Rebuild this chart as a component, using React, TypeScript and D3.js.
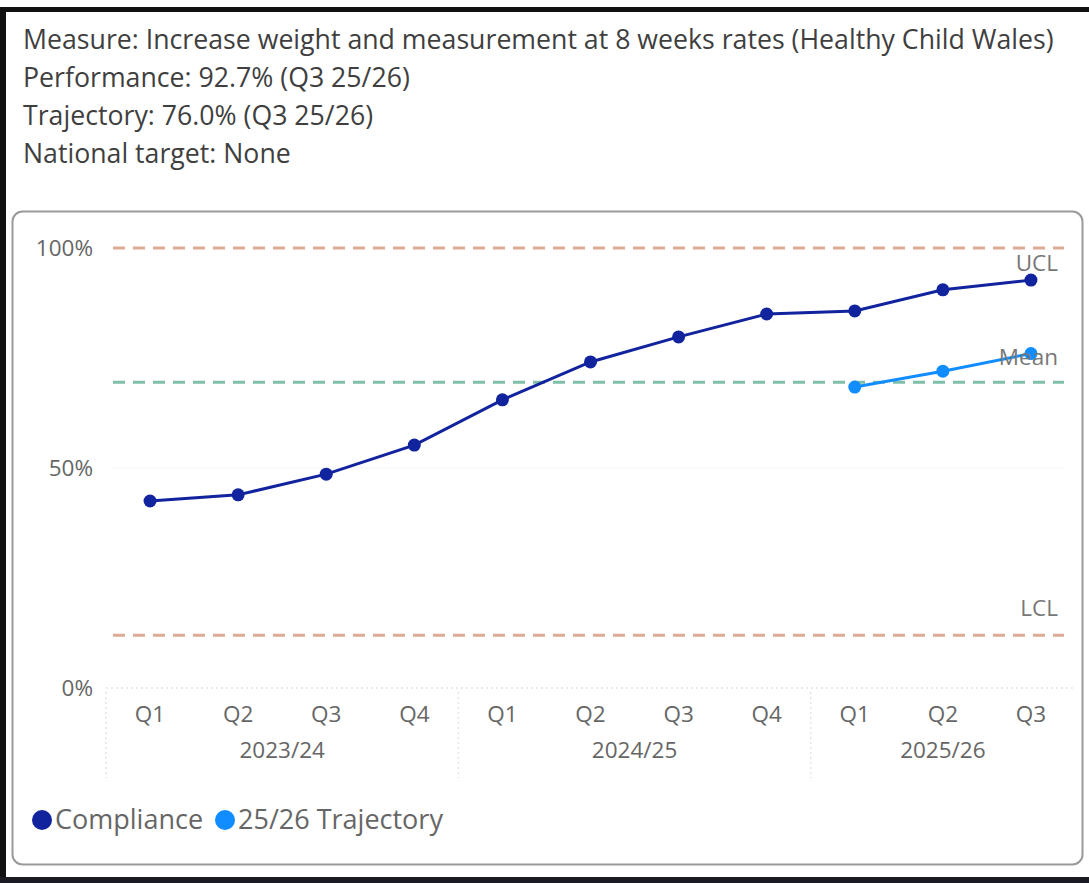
import React from "react";
import * as d3 from "d3";

// Quarter categories, grouped by financial year
const quarters = ["Q1", "Q2", "Q3", "Q4", "Q1", "Q2", "Q3", "Q4", "Q1", "Q2", "Q3"];
const years = ["2023/24", "2024/25", "2025/26"];
const yearOfQuarter = [0, 0, 0, 0, 1, 1, 1, 1, 2, 2, 2];

// Compliance rate (%) per quarter
const compliance = [42.5, 43.9, 48.6, 55.2, 65.5, 74.1, 79.8, 85.0, 85.7, 90.5, 92.7];
// 25/26 trajectory (%) for the last three quarters
const trajectoryIndex = [8, 9, 10];
const trajectory = [68.4, 72.0, 76.0];

// Control limits (%)
const ucl = 100;
const mean = 69.5;
const lcl = 12.0;

const yTicks = [0, 50, 100];
const headerLines = [
  "Measure: Increase weight and measurement at 8 weeks rates (Healthy Child Wales)",
  "Performance: 92.7% (Q3 25/26)",
  "Trajectory: 76.0% (Q3 25/26)",
  "National target: None",
];

const FONT = "'Open Sans', 'Noto Sans', sans-serif";
const COMPLIANCE_COLOR = "#12239E";
const TRAJECTORY_COLOR = "#118DFF";
const AXIS_FONT = 22.5;

export default function App() {
  const W = 1089;
  const H = 883;

  const x = d3
    .scaleBand<number>()
    .domain(d3.range(quarters.length))
    .range([106, 1075])
    .paddingInner(0)
    .paddingOuter(0);
  const cx = (i: number) => (x(i) as number) + x.bandwidth() / 2;
  const y = d3.scaleLinear().domain([0, 100]).range([688, 248]);

  const line = d3
    .line<[number, number]>()
    .x((d) => d[0])
    .y((d) => d[1]);

  const compPts: [number, number][] = compliance.map((v, i) => [cx(i), y(v)]);
  const trajPts: [number, number][] = trajectory.map((v, k) => [cx(trajectoryIndex[k]), y(v)]);

  const lineX0 = 113;
  const lineX1 = 1064;

  // year group boundaries (index of first quarter in each year)
  const yearStarts = years.map((_, yi) => yearOfQuarter.indexOf(yi));
  const yearEnds = years.map((_, yi) => yearOfQuarter.lastIndexOf(yi));

  const refLines = [
    { v: ucl, color: "#dcab96", label: "UCL", dy: 23 },
    { v: mean, color: "#7fbfaa", label: "Mean", dy: -17 },
    { v: lcl, color: "#dcab96", label: "LCL", dy: -19 },
  ];

  return (
    <svg
      width={W}
      height={H}
      style={{ position: "absolute", left: 0, top: 0, background: "#fff" }}
      fontFamily={FONT}
    >
      {/* outer frame */}
      <rect x={0} y={0} width={W} height={H} fill="#fff" />
      <rect x={0} y={7} width={W} height={5} fill="#111" />
      <rect x={0} y={7} width={6} height={H - 7} fill="#111" />
      <rect x={0} y={877} width={W} height={6} fill="#1a1a22" />

      {/* header text */}
      {headerLines.map((t, i) => (
        <text key={i} x={23} y={49 + i * 38} fontSize={26.7} fill="#3f3f3f">
          {t}
        </text>
      ))}

      {/* chart card */}
      <rect
        x={12.5}
        y={211.5}
        width={1070}
        height={653}
        rx={10}
        fill="#fff"
        stroke="#9a9a9a"
        strokeWidth={2}
      />

      {/* faint gridlines */}
      <line x1={lineX0} x2={lineX1} y1={y(50)} y2={y(50)} stroke="#f3f3f3" strokeWidth={1} />
      <line
        x1={106}
        x2={1075}
        y1={y(0)}
        y2={y(0)}
        stroke="#e4e4e4"
        strokeWidth={1.5}
        strokeDasharray="2,3"
      />

      {/* year separators */}
      {yearStarts.map((s, i) => (
        <line
          key={"sep" + i}
          x1={x(s) as number}
          x2={x(s) as number}
          y1={y(0) + 4}
          y2={778}
          stroke="#e4e4e4"
          strokeWidth={1.5}
          strokeDasharray="2,3"
        />
      ))}

      {/* y-axis tick labels */}
      {yTicks.map((t) => (
        <text
          key={t}
          x={93}
          y={y(t)}
          dy="0.35em"
          textAnchor="end"
          fontSize={AXIS_FONT}
          fill="#666"
        >
          {t}%
        </text>
      ))}

      {/* reference lines */}
      {refLines.map((r) => (
        <line
          key={r.label}
          x1={lineX0}
          x2={lineX1}
          y1={y(r.v)}
          y2={y(r.v)}
          stroke={r.color}
          strokeWidth={3}
          strokeDasharray="12,8"
        />
      ))}

      {/* compliance series */}
      <path d={line(compPts) ?? ""} fill="none" stroke={COMPLIANCE_COLOR} strokeWidth={3} />
      {compPts.map((p, i) => (
        <circle key={"c" + i} cx={p[0]} cy={p[1]} r={6.5} fill={COMPLIANCE_COLOR} />
      ))}

      {/* trajectory series */}
      <path d={line(trajPts) ?? ""} fill="none" stroke={TRAJECTORY_COLOR} strokeWidth={3} />
      {trajPts.map((p, i) => (
        <circle key={"t" + i} cx={p[0]} cy={p[1]} r={6.5} fill={TRAJECTORY_COLOR} />
      ))}

      {/* reference line labels */}
      {refLines.map((r) => (
        <text
          key={"lbl" + r.label}
          x={1058}
          y={y(r.v) + r.dy}
          textAnchor="end"
          fontSize={AXIS_FONT}
          fill="#777"
        >
          {r.label}
        </text>
      ))}

      {/* x-axis: quarter labels */}
      {quarters.map((q, i) => (
        <text
          key={"q" + i}
          x={cx(i)}
          y={722}
          textAnchor="middle"
          fontSize={AXIS_FONT}
          fill="#666"
        >
          {q}
        </text>
      ))}

      {/* x-axis: year labels */}
      {years.map((yr, i) => {
        const mid = ((x(yearStarts[i]) as number) + (x(yearEnds[i]) as number) + x.bandwidth()) / 2;
        return (
          <text key={yr} x={mid} y={758} textAnchor="middle" fontSize={AXIS_FONT} fill="#666">
            {yr}
          </text>
        );
      })}

      {/* legend */}
      <circle cx={42} cy={820} r={10} fill={COMPLIANCE_COLOR} />
      <text x={55} y={829} fontSize={27} fill="#666">
        Compliance
      </text>
      <circle cx={225} cy={820} r={10} fill={TRAJECTORY_COLOR} />
      <text x={238} y={829} fontSize={27} fill="#666">
        25/26 Trajectory
      </text>
    </svg>
  );
}
